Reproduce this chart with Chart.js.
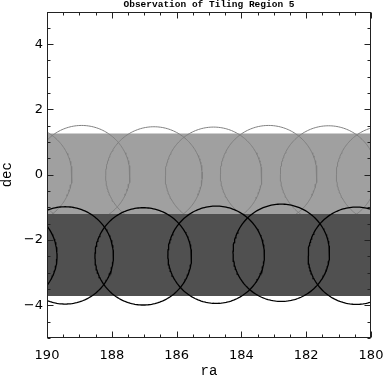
<!DOCTYPE html>
<html><head><meta charset="utf-8">
<script src="https://cdn.jsdelivr.net/npm/chart.js@4/dist/chart.umd.min.js"></script>
<style>html,body{margin:0;padding:0;background:#fff;}#wrap{width:383px;height:378px;position:relative;}</style>
</head><body><div id="wrap"><canvas id="c" width="383" height="378"></canvas></div>
<script>
const chartTitle = 'Observation of Tiling Region 5';
const xTickValues = [190, 188, 186, 184, 182, 180];
const yTickValues = [-4, -2, 0, 2, 4];
const raRange = [180, 190];
const decRange = [-5, 5];
// stripe bands: [dec min, dec max]
const stripe1Band = [-1.2, 1.26];
const stripe2Band = [-3.71, -1.2];
// tile centres
const stripe1TileRA  = [190.72, 188.93, 186.70, 184.86, 183.16, 181.31, 179.58];
const stripe1TileDec = [0.0, 0.02, -0.02, -0.03, 0.02, 0.01, 0.0];
const stripe2TileRA  = [191.18, 189.44, 187.03, 184.78, 182.77, 180.45];
const stripe2TileDec = [-2.48, -2.47, -2.50, -2.45, -2.39, -2.48];
const tileRadius = 1.49;

function outline(ra, dec, r) {
  const pts = [];
  for (let i = 0; i <= 180; i++) {
    const t = i / 180 * Math.PI * 2;
    pts.push({x: ra + r * Math.cos(t), y: dec + r * Math.sin(t)});
  }
  return pts;
}
function band(b, color, order) {
  return {type: 'line', data: [{x: raRange[1], y: b[1]}, {x: raRange[0], y: b[1]}],
    fill: {value: b[0]}, backgroundColor: color, borderWidth: 0, borderColor: 'rgba(0,0,0,0)',
    pointRadius: 0, order: order};
}
const datasets = [];
datasets.push(band(stripe1Band, '#a0a0a0', 4));
stripe1TileRA.forEach((ra, i) => datasets.push({type: 'line', data: outline(ra, stripe1TileDec[i], tileRadius),
  borderColor: '#808080', borderWidth: 1, pointRadius: 0, fill: false, order: 3}));
datasets.push(band(stripe2Band, '#505050', 2));
stripe2TileRA.forEach((ra, i) => datasets.push({type: 'line', data: outline(ra, stripe2TileDec[i], tileRadius),
  borderColor: '#000000', borderWidth: 1.3, pointRadius: 0, fill: false, order: 1}));

const frameTicks = {
  id: 'frameTicks',
  afterDatasetsDraw(chart) {
    const {ctx, chartArea: a, scales: {x, y}} = chart;
    ctx.save();
    ctx.strokeStyle = '#222';
    ctx.lineWidth = 1;
    const L = Math.round(a.left) + 0.5, R = Math.round(a.right) - 0.5;
    const T = Math.round(a.top) + 0.5, B = Math.round(a.bottom) - 0.5;
    ctx.strokeRect(L, T, R - L, B - T);
    ctx.beginPath();
    for (let k = 0; k <= 20; k++) {
      const v = raRange[0] + k * 0.5;
      const len = (v % 2 === 0) ? 6 : 3;
      const px = Math.round(x.getPixelForValue(v)) + 0.5;
      ctx.moveTo(px, B); ctx.lineTo(px, B - len);
      ctx.moveTo(px, T); ctx.lineTo(px, T + len);
    }
    for (let k = 0; k <= 20; k++) {
      const v = decRange[0] + k * 0.5;
      const len = (Math.abs(v) % 2 === 0) ? 6 : 3;
      const py = Math.round(y.getPixelForValue(v)) + 0.5;
      ctx.moveTo(L, py); ctx.lineTo(L + len, py);
      ctx.moveTo(R, py); ctx.lineTo(R - len, py);
    }
    ctx.stroke();
    ctx.restore();
  }
};

new Chart(document.getElementById('c'), {
  type: 'line',
  data: {datasets},
  options: {
    responsive: false, animation: false, events: [],
    layout: {padding: {left: 0, right: 12, top: 0, bottom: 0}},
    elements: {line: {tension: 0}},
    plugins: {
      legend: {display: false}, tooltip: {enabled: false},
      title: {display: true, text: chartTitle, fullSize: false, color: '#000',
        font: {family: 'Liberation Mono', size: 9.5, weight: 'bold', lineHeight: 1},
        padding: {top: 0, bottom: 2}}
    },
    scales: {
      x: {type: 'linear', reverse: true, min: raRange[0], max: raRange[1], position: 'bottom',
        afterFit: s => { s.height = 40; s.paddingLeft = 0; s.paddingRight = 0; },
        afterBuildTicks: s => { s.ticks = xTickValues.map(v => ({value: v})); },
        grid: {display: false, drawTicks: false}, border: {display: false},
        ticks: {padding: 9.5, color: '#000', autoSkip: false, maxRotation: 0,
          font: {family: 'DejaVu Sans', size: 13}, callback: v => String(v)},
        title: {display: true, text: 'ra', color: '#000',
          font: {family: 'Liberation Mono', size: 14, lineHeight: 1}, padding: {top: 0, bottom: 0}}},
      y: {type: 'linear', min: decRange[0], max: decRange[1],
        afterFit: s => { s.width = 47; s.paddingTop = 0; s.paddingBottom = 0; },
        afterBuildTicks: s => { s.ticks = yTickValues.map(v => ({value: v})); },
        grid: {display: false, drawTicks: false}, border: {display: false},
        ticks: {padding: 4, color: '#000', autoSkip: false,
          font: {family: 'DejaVu Sans', size: 13},
          callback: v => v < 0 ? '\u2212' + Math.abs(v) : String(v)},
        title: {display: true, text: 'dec', color: '#000',
          font: {family: 'Liberation Mono', size: 14, lineHeight: 1}, padding: {top: 0, bottom: 0}}}
    }
  },
  plugins: [frameTicks]
});
</script></body></html>
